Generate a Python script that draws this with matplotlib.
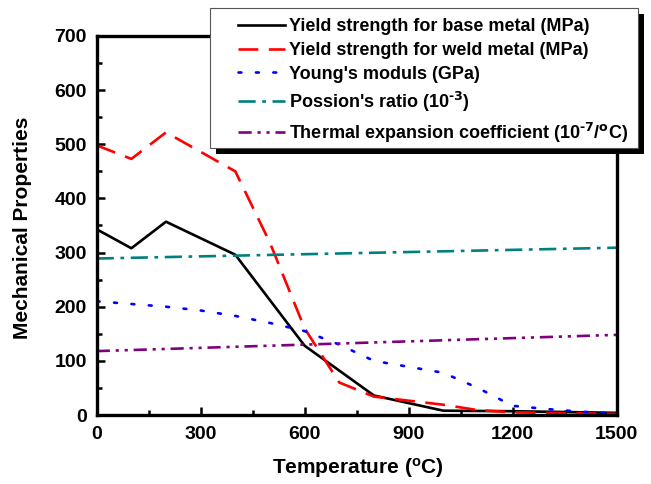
import matplotlib
matplotlib.use("Agg")
import matplotlib.pyplot as plt
from matplotlib.patches import Rectangle
from matplotlib.ticker import MultipleLocator

plt.rcParams['font.family'] = ['Liberation Sans', 'DejaVu Sans']
plt.rcParams['font.weight'] = 'bold'
plt.rcParams['mathtext.default'] = 'regular'

# ---- data ----
t_base = [0, 100, 200, 400, 600, 800, 1000, 1200, 1500]
yield_base = [343, 308, 357, 296, 128, 36, 8, 7, 4]

t_weld = [0, 100, 200, 400, 500, 600, 700, 800, 1000, 1100, 1200, 1500]
yield_weld = [498, 473, 522, 450, 318, 160, 60, 34, 19, 9, 5, 2]

t_young = [0, 100, 200, 300, 400, 500, 600, 700, 800, 900, 1000, 1100, 1200, 1300, 1400, 1500]
young = [210, 205, 200, 193, 183, 170, 155, 130, 100, 89, 78, 50, 17, 11, 6, 3]

t_line = [0, 1500]
poisson = [289, 309]
thermal = [118, 148]

labels = ["Yield strength for base metal (MPa)",
          "Yield strength for weld metal (MPa)",
          "Young's moduls (GPa)",
          "Possion's ratio (10$^{\\text{-3}}$)",
          "Thermal expansion coefficient (10$^{\\text{-7}}$/$^{\\text{o}}$C)"]

W, H = 651, 484
fig = plt.figure(figsize=(W / 100, H / 100), dpi=100)
ax = fig.add_axes([96.7 / W, 1 - 415 / H, (616.5 - 96.7) / W, (415 - 36) / H])

lw = 1.9
l1, = ax.plot(t_base, yield_base, color='black', lw=lw)
l2, = ax.plot(t_weld, yield_weld, color='#ff0000', lw=lw, dashes=(7.5, 4))
l3, = ax.plot(t_young, young, color='#0000ff', lw=lw, dashes=(1.1, 5.5), dash_capstyle='round')
l4, = ax.plot(t_line, poisson, color='#008080', lw=lw, dashes=(6.5, 2.5, 1.4, 2.5))
l5, = ax.plot(t_line, thermal, color='#800080', lw=lw, dashes=(5, 2.2, 1.2, 2.2, 1.2, 2.2))

ax.set_xlim(0, 1500)
ax.set_ylim(0, 700)
ax.xaxis.set_major_locator(MultipleLocator(300))
ax.xaxis.set_minor_locator(MultipleLocator(150))
ax.yaxis.set_major_locator(MultipleLocator(100))
ax.yaxis.set_minor_locator(MultipleLocator(50))
ax.tick_params(which='both', direction='in', width=1.8, labelsize=14, top=False, right=False)
ax.tick_params(which='major', length=6, pad=8)
ax.tick_params(which='minor', length=3.5)
ax.tick_params(axis='y', which='major', pad=7)
for s in ax.spines.values():
    s.set_linewidth(2.4)
for lab in ax.get_xticklabels() + ax.get_yticklabels():
    lab.set_fontweight('bold')

fig.text(23 / W, 1 - 228 / H, "Mechanical Properties", rotation=90, ha='center', va='center',
         fontsize=15, fontweight='bold')
fig.text(358 / W, 1 - 468 / H, "Temperature ($^{o}$C)", ha='center', va='center',
         fontsize=15, fontweight='bold')

# legend frame with black shadow
x0, y0, x1, y1 = 210, 8, 638, 148
fig.patches.append(Rectangle(((x0 + 6) / W, 1 - (y1 + 6) / H), (x1 - x0) / W, (y1 - y0) / H,
                             transform=fig.transFigure, facecolor='black', edgecolor='none', zorder=5))
fig.patches.append(Rectangle((x0 / W, 1 - y1 / H), (x1 - x0) / W, (y1 - y0) / H,
                             transform=fig.transFigure, facecolor='white', edgecolor='#555555',
                             lw=0.8, zorder=6))

leg = fig.legend([l1, l2, l3, l4, l5], labels, loc='upper left',
                 bbox_to_anchor=(238 / W, 1 - 18 / H), bbox_transform=fig.transFigure,
                 frameon=False, fontsize=13, handlelength=2.6, handletextpad=0.25,
                 labelspacing=0.38, borderpad=0, borderaxespad=0)
leg.set_zorder(7)
for t in leg.get_texts():
    t.set_fontweight('bold')

fig.savefig("out.png", dpi=100)
